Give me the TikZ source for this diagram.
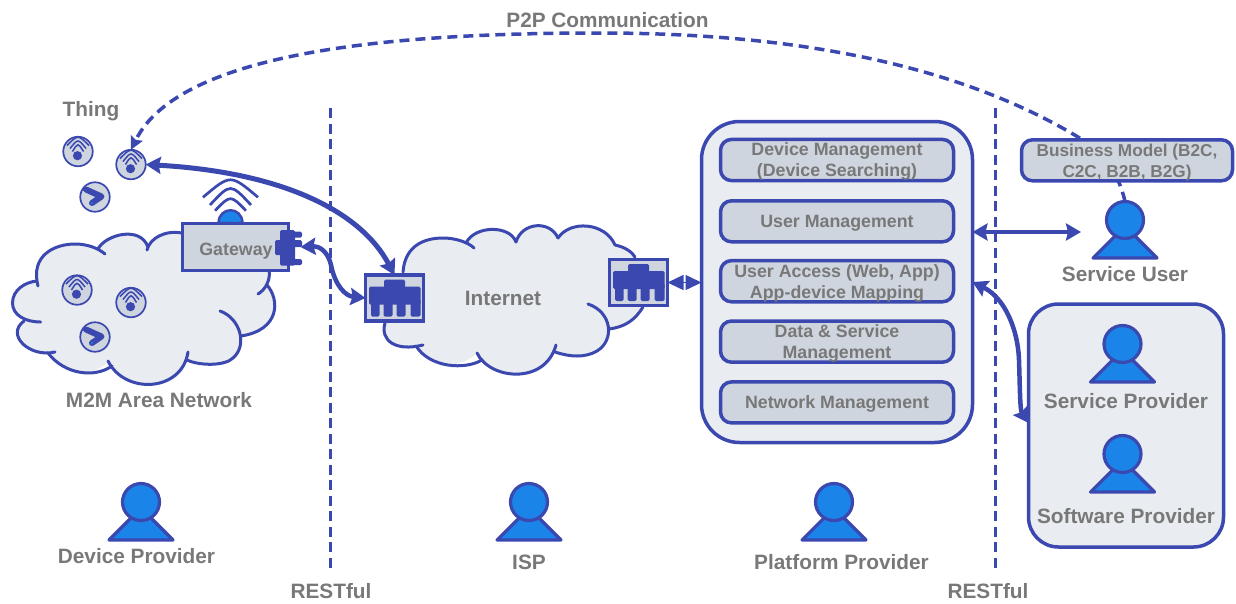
\documentclass[tikz,border=0pt]{standalone}
\usepackage{fontspec}
\setmainfont{Liberation Sans}
\usetikzlibrary{arrows.meta}
\definecolor{lineblue}{HTML}{3A48B0}
\definecolor{personblue}{HTML}{1B84E8}
\definecolor{panel}{HTML}{E9ECF0}
\definecolor{boxfill}{HTML}{CFD5DE}
\definecolor{labelgrey}{HTML}{787878}
\newcommand\bs{\rule[-3.6pt]{0pt}{20pt}}
\newcommand\wifiicon[1]{%
  \begin{scope}[shift={(#1.center)}]
    \fill[lineblue] (-0.5,4.2) circle[radius=4.6];
    \draw[lineblue,line width=1.5] (-11,-6) .. controls (0,-17) .. (11,-6);
    \draw[lineblue,line width=1.5] (-8,-3) .. controls (0,-13) .. (8,-3);
    \draw[lineblue,line width=1.5] (-5.5,0) .. controls (0,-9) .. (5.5,0);
  \end{scope}}
\newcommand\sensoricon[1]{%
  \begin{scope}[shift={(#1.center)}]
    \draw[lineblue,line width=6,line cap=round,line join=round] (-9,-7.5) -- (6.5,-0.5) -- (-3,6);
    \fill[personblue] (-3,6) circle[radius=1.2];
  \end{scope}}
\newcommand\switchicon[1]{%
  \begin{scope}[shift={(#1.north west)}]
    \fill[lineblue,rounded corners=1.5] (18.5,4.5) rectangle (39.5,15);
    \fill[lineblue,rounded corners=1.5] (3.5,11.5) rectangle (55,29.5);
    \foreach \a/\b in {5.5/14,18/27,31/40,45/55}
      \fill[lineblue,rounded corners=1.5] (\a,24) rectangle (\b,41.5);
  \end{scope}}
\newcommand\personfig[3]{%
  \draw[lineblue,fill=personblue,line width=3.2,line join=round] (#2-32,#3+38) -- (#2,#3+6) -- (#2+32,#3+38) -- cycle;
  \node[head] (#1) at (#2,#3) {};}
\tikzset{
  lbl/.style={anchor=base,text=labelgrey,font=\fontsize{20.8}{24}\selectfont\bfseries,inner sep=0},
  boxtxt/.style={text=labelgrey,font=\fontsize{17.8}{21}\selectfont\bfseries,align=center,inner sep=0,outer sep=0},
  service/.style={boxtxt,draw=lineblue,fill=boxfill,line width=3.5,rounded corners=11,minimum width=233,minimum height=41},
  head/.style={circle,draw=lineblue,fill=personblue,line width=3.2,minimum size=37,inner sep=0,outer sep=0},
  thing/.style={circle,draw=lineblue,fill=boxfill,line width=1.7,minimum size=29.5,inner sep=0,outer sep=0},
  switchbox/.style={rectangle,draw=lineblue,fill=boxfill,line width=3.5,minimum width=58,minimum height=46,inner sep=0,outer sep=0},
  cloudline/.style={draw=lineblue,line width=3,line cap=round},
  divider/.style={draw=lineblue,line width=3,dash pattern=on 10pt off 5.5pt},
  thick arrow/.style={draw=lineblue,line width=#1,{Stealth[length=15pt,width=17pt,inset=2pt]}-{Stealth[length=15pt,width=17pt,inset=2pt]}},
  thick arrow/.default=5,
  p2p/.style={draw=lineblue,line width=3.5,dash pattern=on 10pt off 6pt}
}
\begin{document}
\begin{tikzpicture}[x=1pt,y=-1pt]
\useasboundingbox (0,0) rectangle (1236,603);
% dividers
\coordinate (d1a) at (330,108); \coordinate (d1b) at (330,571);
\coordinate (d2a) at (995,108); \coordinate (d2b) at (995,571);
\draw[divider] (d1a) -- (d1b);
\draw[divider] (d2a) -- (d2b);
% M2M cloud
\fill[panel] (40.7,322) .. controls (25,322) and (12.5,315) .. (12.5,303) .. controls (12.5,290) and (25,282) .. (37,281)
  .. controls (30,255) and (55,244) .. (75,244) .. controls (85,244) and (92,246) .. (98,249)
  .. controls (105,235) and (140,225) .. (148,247) .. controls (150,238) and (165,230) .. (182,233)
  -- (269,240) -- (269,273) -- (267,285) .. controls (280,300) and (280,330) .. (241,336)
  -- (241,345) -- (233,358) .. controls (225,366) and (200,366) .. (187,360)
  .. controls (182,392) and (125,395) .. (108,361)
  .. controls (95,378) and (65,375) .. (48,353)
  .. controls (30,358) and (5,335) .. (24,321) -- cycle;
\draw[cloudline] (40.7,322) .. controls (25,322) and (12.5,315) .. (12.5,303) .. controls (12.5,290) and (25,282) .. (37,281);
\draw[cloudline] (38,286) .. controls (30,255) and (55,244) .. (75,244) .. controls (87,244) and (98,248) .. (105,254);
\draw[cloudline] (98,249) .. controls (105,235) and (140,225) .. (148,247);
\draw[cloudline] (147,250) .. controls (150,238) and (165,230) .. (182,233);
\draw[cloudline] (269,270) .. controls (271,280) and (265,290) .. (258,294);
\draw[cloudline] (267,285) .. controls (280,300) and (280,330) .. (241,336);
\draw[cloudline] (220,311) .. controls (240,318) and (248,345) .. (233,358) .. controls (225,366) and (200,366) .. (187,360);
\draw[cloudline] (188,352) .. controls (182,392) and (125,395) .. (108,361);
\draw[cloudline] (112,366) .. controls (95,378) and (65,375) .. (48,353);
\draw[cloudline] (55,352) .. controls (30,358) and (5,335) .. (24,321);
% Internet cloud
\fill[panel] (403,272) .. controls (405,245) and (425,238) .. (443,238) .. controls (452,238) and (460,240) .. (466,243)
  .. controls (475,225) and (510,225) .. (516,242) .. controls (522,222) and (550,220) .. (558,238)
  .. controls (570,220) and (605,222) .. (615,245) .. controls (625,247) and (632,252) .. (635,257)
  -- (645,290) -- (643,307) .. controls (635,320) and (625,327) .. (609,329)
  -- (608,340) -- (597,351) .. controls (585,358) and (570,357) .. (555,352) .. controls (545,385) and (490,380) .. (477,353)
  .. controls (460,370) and (430,368) .. (416,346) .. controls (395,352) and (380,340) .. (385,323) -- cycle;
\draw[cloudline] (403,272) .. controls (405,245) and (425,238) .. (443,238) .. controls (455,238) and (468,242) .. (474,248);
\draw[cloudline] (466,243) .. controls (475,225) and (510,225) .. (516,242);
\draw[cloudline] (516,242) .. controls (522,222) and (550,220) .. (558,238);
\draw[cloudline] (558,238) .. controls (570,220) and (605,222) .. (615,245);
\draw[cloudline] (615,245) .. controls (625,247) and (632,252) .. (635,257);
\draw[cloudline] (643,307) .. controls (635,320) and (625,327) .. (609,329);
\draw[cloudline] (588,304) .. controls (612,312) and (615,340) .. (597,351) .. controls (585,358) and (570,357) .. (555,352);
\draw[cloudline] (556,345) .. controls (545,385) and (490,380) .. (477,353);
\draw[cloudline] (482,360) .. controls (465,370) and (430,368) .. (416,346);
\draw[cloudline] (423,345) .. controls (395,352) and (380,340) .. (385,323);
% panels
\node[draw=lineblue,fill=panel,line width=3.5,rounded corners=38,minimum width=271,minimum height=321,inner sep=0,outer sep=0] (platform) at (837,282) {};
\node[draw=lineblue,fill=panel,line width=3.5,rounded corners=30,minimum width=195,minimum height=243,inner sep=0,outer sep=0] (providers) at (1126,425.5) {};
% things
\node[thing] (t1) at (78,151.5) {};
\node[thing] (t2) at (131,164.5) {};
\node[thing] (t3) at (95,197) {};
\node[thing] (t4) at (77,290) {};
\node[thing] (t5) at (131,302.5) {};
\node[thing] (t6) at (95,337) {};
\wifiicon{t1}\wifiicon{t2}\sensoricon{t3}\wifiicon{t4}\wifiicon{t5}\sensoricon{t6}
% P2P
\personfig{user}{1125}{220}
\draw[p2p,-{Stealth[length=13pt,width=13pt,inset=2pt]}] (user.north) .. controls (1118,170) and (1100,150) .. (1078,137) .. controls (950,60) and (780,33) .. (600,33) .. controls (400,33) and (180,50) .. (t2.north);
% gateway
\fill[personblue,draw=lineblue,line width=2.5] (218.5,223) .. controls (219,206) and (242,206) .. (242.5,223) -- cycle;
\draw[lineblue,line width=2.7] (203,197.3) .. controls (230.5,174) .. (258,197.3);
\draw[lineblue,line width=2.7] (210,205) .. controls (230.5,183) .. (251,205);
\draw[lineblue,line width=2.7] (215,210.7) .. controls (230.5,194.7) .. (246,210.7);
\node[draw=lineblue,fill=boxfill,line width=3.5,minimum width=106,minimum height=47,inner sep=0,outer sep=0] (gw) at (235.5,247) {};
\node[lbl,font=\fontsize{17.8}{21}\selectfont\bfseries] (gwl) at (236,255) {Gateway};
\fill[lineblue,rounded corners=1.5] (280,230) rectangle (295,265.5);
\fill[lineblue,rounded corners=1.5] (275,240) rectangle (282,255);
\fill[lineblue,rounded corners=1.5] (290,231.5) rectangle (302,237.5);
\fill[lineblue,rounded corners=1.5] (290,240) rectangle (302,247);
\fill[lineblue,rounded corners=1.5] (290,259) rectangle (302,265);
\coordinate (gwp) at (300.5,247);
% switches
\node[switchbox] (sw1) at (394.5,298) {};
\node[switchbox] (sw2) at (638.5,282.5) {};
\switchicon{sw1}\switchicon{sw2}
% platform services
\node[service] (s1) at (837,160) {\bs Device Management\\\bs (Device Searching)};
\node[service] (s2) at (837,221.3) {\bs User Management};
\node[service] (s3) at (837,281.2) {\bs User Access (Web, App)\\\bs App-device Mapping};
\node[service] (s4) at (837,341.6) {\bs Data \& Service\\\bs Management};
\node[service] (s5) at (837,402.4) {\bs Network Management};
\node[service,minimum width=211,font=\fontsize{17.2}{21}\selectfont\bfseries] (biz) at (1127,160.3) {\bs Business Model (B2C,\\\bs C2C, B2B, B2G)};
% persons
\personfig{sp}{1122.5}{344}
\personfig{swp}{1122.5}{454}
\personfig{dp}{141}{502}
\personfig{isp}{529}{502}
\personfig{pp}{834}{502}
% labels
\node[lbl] (l1) at (91,116) {Thing};
\node[lbl] (l2) at (159,407) {M2M Area Network};
\node[lbl] (l3) at (503,305) {Internet};
\node[lbl] (l4) at (136.5,563) {Device Provider};
\node[lbl] (l5) at (529,569) {ISP};
\node[lbl] (l6) at (841.5,569) {Platform Provider};
\node[lbl] (l7) at (331,598) {RESTful};
\node[lbl] (l8) at (988,598) {RESTful};
\node[lbl] (l9) at (1125,281) {Service User};
\node[lbl] (l10) at (1126,408.5) {Service Provider};
\node[lbl] (l11) at (1126,523.5) {Software Provider};
\node[lbl] (l12) at (607.5,27) {P2P Communication};
% connectors
\draw[thick arrow=5] (t2.east) .. controls (280,172) and (360,210) .. (sw1.north);
\draw[thick arrow=4.5] (gwp) .. controls (320,246) and (328,252) .. (331,265) .. controls (335,285) and (345,296) .. (sw1.west);
\draw[draw=lineblue,line width=1.5,{Stealth[length=16pt,width=15pt,inset=0pt]}-{Stealth[length=16pt,width=15pt,inset=0pt]}] (sw2.east) -- (platform.west |- sw2.east);
\draw[thick arrow=4.5] (platform.east |- 0,232) -- (1081,232);
\draw[thick arrow=4.5] (platform.east |- 0,282) .. controls (1005,298) and (1018,330) .. (1019,360) .. controls (1020,390) and (1020,410) .. (providers.west |- 0,423);
\end{tikzpicture}
\end{document}
